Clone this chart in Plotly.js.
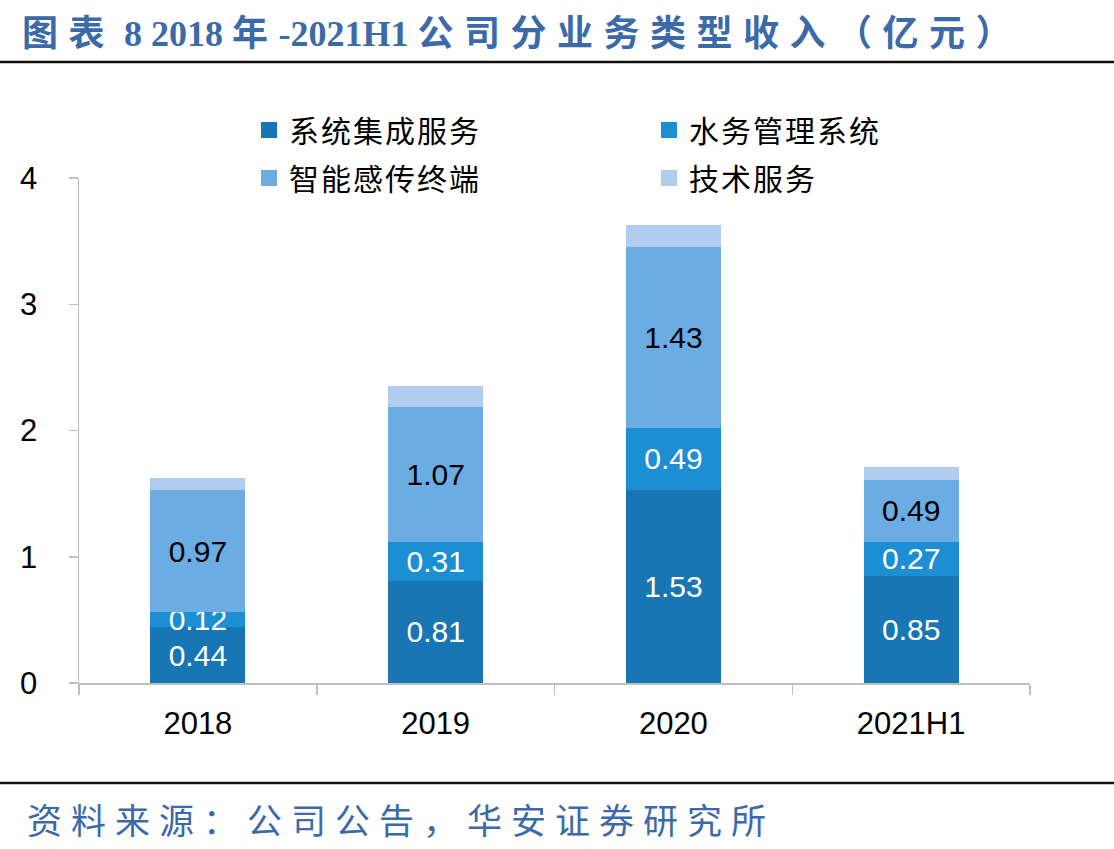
<!DOCTYPE html>
<html>
<head>
<meta charset="utf-8">
<script src="https://cdn.plot.ly/plotly-3.0.1.min.js"></script>
<style>
html,body{margin:0;padding:0;background:#fff;}
#chart{width:1114px;height:849px;}
</style>
</head>
<body>
<div id="chart"></div>
<script>
// ---- data ----
const categories = ["2018", "2019", "2020", "2021H1"];
const seriesNames = ["系统集成服务", "水务管理系统", "智能感传终端", "技术服务"];
const systemIntegration = [0.44, 0.81, 1.53, 0.85];
const waterManagement = [0.12, 0.31, 0.49, 0.27];
const smartTerminals = [0.97, 1.07, 1.43, 0.49];
const techServices = [0.09, 0.16, 0.18, 0.10];
const yTicks = [0, 1, 2, 3, 4];
const titleText = "图表 8 2018 年-2021H1 公司分业务类型收入（亿元）";
const sourceText = "资料来源：公司公告，华安证券研究所";

// ---- style ----
const colors = ["#1776B3", "#1C8FD4", "#6BACE3", "#B0CCEF"];
const labelColors = ["#ffffff", "#ffffff", "#000000", null];
const latin = "Arial, Liberation Sans, sans-serif";
const cjk = "Noto Sans CJK SC, sans-serif";
const blue = "#3C6AA8";

// wrap runs of CJK characters in spans with extra letter spacing
function spaceCJK(str, ls) {
  return str.replace(/([\u3000-\u9fff\uff00-\uffef]+)/g,
    '<span style="letter-spacing:' + ls + 'px">$1</span>');
}

const values = [systemIntegration, waterManagement, smartTerminals, techServices];
const legendIds = ["legend", "legend2", "legend3", "legend4"];

const traces = values.map((v, i) => {
  const t = {
    type: "bar",
    name: seriesNames[i],
    x: categories,
    y: v,
    marker: {color: colors[i], line: {width: 0}},
    showlegend: false,
    hoverinfo: "skip"
  };
  if (labelColors[i]) {
    t.texttemplate = "%{y:.2f}";
    t.textposition = "inside";
    t.insidetextanchor = "middle";
    t.constraintext = "none";
    t.textfont = {family: latin, size: 30, color: labelColors[i]};
  } else {
    t.textposition = "none";
  }
  return t;
});

// legend-only entries (square swatches)
seriesNames.forEach((name, i) => {
  traces.push({
    type: "scatter",
    mode: "markers",
    name: spaceCJK(name, 2),
    x: [null], y: [null],
    marker: {symbol: "square", size: 16, color: colors[i], line: {width: 0}},
    legend: legendIds[i],
    showlegend: true,
    hoverinfo: "skip"
  });
});

const legendCommon = {
  orientation: "h",
  xanchor: "left",
  yanchor: "middle",
  font: {family: cjk, size: 30, color: "#000"},
  bgcolor: "rgba(0,0,0,0)",
  borderwidth: 0,
  itemsizing: "trace"
};
const col1 = 0.225 - 44 / 951, col2 = col1 + 400 / 951;
const row1 = (683 - 130) / 505, row2 = (683 - 178) / 505;

const layout = {
  width: 1114,
  height: 849,
  margin: {l: 79, r: 84, t: 178, b: 166},
  paper_bgcolor: "#fff",
  plot_bgcolor: "#fff",
  barmode: "stack",
  bargap: 0.6,
  title: {
    text: "<b>" + spaceCJK(titleText, 10.5) + "</b>",
    x: 22 / 1114, xref: "container", xanchor: "left",
    y: 1 - 33 / 849, yref: "container", yanchor: "middle",
    font: {family: "Liberation Serif, Noto Sans CJK SC, serif", size: 36, color: blue}
  },
  xaxis: {
    type: "category",
    tickvals: categories,
    showline: true, linecolor: "#BFBFBF", linewidth: 1.5,
    ticks: "outside", tickson: "boundaries", ticklen: 10, tickcolor: "#BFBFBF", tickwidth: 1.5,
    tickfont: {family: latin, size: 31, color: "#000"},
    ticklabelstandoff: 12,
    showgrid: false, zeroline: false, fixedrange: true
  },
  yaxis: {
    range: [0, 4],
    tickvals: yTicks,
    showline: true, linecolor: "#BFBFBF", linewidth: 1.5,
    ticks: "outside", ticklen: 9, tickcolor: "#BFBFBF", tickwidth: 1.5,
    tickfont: {family: latin, size: 31, color: "#000"},
    ticklabelstandoff: 25,
    showgrid: false, zeroline: false, fixedrange: true
  },
  legend: Object.assign({}, legendCommon, {x: col1, y: row1}),
  legend2: Object.assign({}, legendCommon, {x: col2, y: row1}),
  legend3: Object.assign({}, legendCommon, {x: col1, y: row2}),
  legend4: Object.assign({}, legendCommon, {x: col2, y: row2}),
  shapes: [
    {type: "line", xref: "paper", yref: "paper", x0: -79 / 951, x1: 1035 / 951,
     y0: (683 - 62) / 505, y1: (683 - 62) / 505, line: {color: "#111", width: 2.5}},
    {type: "line", xref: "paper", yref: "paper", x0: -79 / 951, x1: 1035 / 951,
     y0: (683 - 783) / 505, y1: (683 - 783) / 505, line: {color: "#111", width: 2.5}}
  ],
  annotations: [
    {text: spaceCJK(sourceText, 9), xref: "paper", yref: "paper", x: (25 - 79) / 951, y: (683 - 818) / 505,
     xanchor: "left", yanchor: "middle", showarrow: false,
     font: {family: cjk, size: 35, color: blue}}
  ]
};

Plotly.newPlot("chart", traces, layout, {displayModeBar: false, staticPlot: true});
</script>
</body>
</html>
